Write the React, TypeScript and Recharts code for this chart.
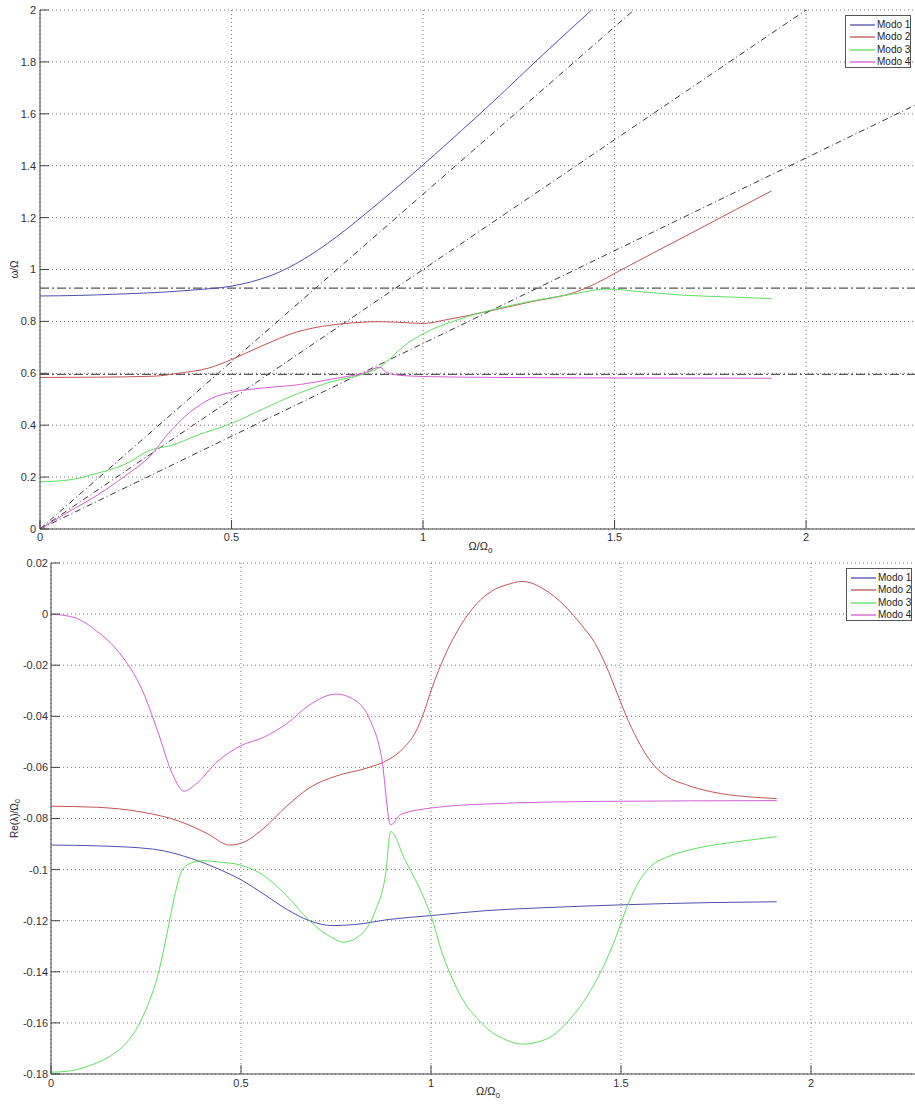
import { LineChart, Line, XAxis, YAxis, CartesianGrid, ReferenceLine, Label } from 'recharts';

const modeNames = ['Modo 1', 'Modo 2', 'Modo 3', 'Modo 4'];
const modeColors = ['#4f4fae', '#c25454', '#5fe05f', '#d35ed3'];

const xTicks = [0, 0.5, 1, 1.5, 2];
const freqTicks = [0, 0.2, 0.4, 0.6, 0.8, 1, 1.2, 1.4, 1.6, 1.8, 2];
const dampTicks = [-0.18, -0.16, -0.14, -0.12, -0.1, -0.08, -0.06, -0.04, -0.02, 0, 0.02];

// reference lines in the frequency plot
const raySlopes = [1.29, 1.0, 0.715];
const levelLines = [0.928, 0.596];

// omega / Omega
const freqX1 = [0, 0.1, 0.2, 0.3, 0.4, 0.5, 0.55, 0.6, 0.65, 0.7, 0.75, 0.8, 0.85, 0.9, 0.95, 1.0, 1.1, 1.2, 1.3, 1.44];
const freqY1 = [0.898, 0.9, 0.905, 0.911, 0.921, 0.936, 0.952, 0.975, 1.008, 1.05, 1.1, 1.155, 1.215, 1.276, 1.339, 1.403, 1.535, 1.67, 1.81, 2.0];
const freqX2 = [0, 0.15, 0.3, 0.36, 0.44, 0.5, 0.58, 0.67, 0.76, 0.82, 0.88, 0.93, 1.0, 1.06, 1.17, 1.28, 1.4, 1.45, 1.5, 1.6, 1.7, 1.8, 1.91];
const freqY2 = [0.584, 0.585, 0.589, 0.6, 0.62, 0.653, 0.706, 0.759, 0.786, 0.795, 0.799, 0.797, 0.792, 0.806, 0.839, 0.875, 0.914, 0.945, 0.985, 1.063, 1.14, 1.218, 1.303];
const freqX3 = [0, 0.07, 0.15, 0.22, 0.29, 0.34, 0.41, 0.5, 0.58, 0.67, 0.76, 0.85, 0.888, 0.92, 0.95, 1.0, 1.09, 1.24, 1.39, 1.48, 1.57, 1.68, 1.82, 1.91];
const freqY3 = [0.182, 0.188, 0.215, 0.248, 0.305, 0.321, 0.361, 0.407, 0.461, 0.52, 0.567, 0.6, 0.624, 0.665, 0.705, 0.752, 0.806, 0.865, 0.905, 0.925, 0.914, 0.901, 0.893, 0.888];
const freqX4 = [0, 0.07, 0.15, 0.22, 0.29, 0.335, 0.39, 0.45, 0.5, 0.58, 0.68, 0.77, 0.85, 0.888, 0.905, 0.95, 1.02, 1.2, 1.5, 1.91];
const freqY4 = [0, 0.062, 0.131, 0.202, 0.285, 0.368, 0.448, 0.505, 0.527, 0.543, 0.557, 0.58, 0.603, 0.624, 0.602, 0.591, 0.587, 0.584, 0.582, 0.581];

// Re(lambda) / Omega0
const dampX1 = [0, 0.12, 0.27, 0.37, 0.44, 0.5, 0.56, 0.62, 0.68, 0.74, 0.8, 0.89, 1.0, 1.15, 1.3, 1.5, 1.74, 1.91];
const dampY1 = [-0.0904, -0.0907, -0.092, -0.0957, -0.0997, -0.104, -0.1096, -0.1155, -0.12, -0.1219, -0.1215, -0.1195, -0.118, -0.116, -0.1149, -0.1138, -0.1129, -0.1126];
const dampX2 = [0, 0.12, 0.24, 0.34, 0.41, 0.47, 0.51, 0.56, 0.62, 0.68, 0.75, 0.83, 0.89, 0.93, 0.96, 0.98, 1.0, 1.02, 1.05, 1.08, 1.12, 1.16, 1.2, 1.24, 1.3, 1.35, 1.4, 1.43, 1.46, 1.49, 1.52, 1.55, 1.58, 1.62, 1.67, 1.74, 1.91];
const dampY2 = [-0.0752, -0.0756, -0.0775, -0.0812, -0.0858, -0.0904, -0.0891, -0.0838, -0.0752, -0.068, -0.0634, -0.0603, -0.0568, -0.0521, -0.046, -0.039, -0.03, -0.022, -0.012, -0.004, 0.004, 0.009, 0.0115, 0.0128, 0.0095, 0.0035, -0.005, -0.011, -0.02, -0.031, -0.042, -0.051, -0.058, -0.0635, -0.0667, -0.0696, -0.0722];
const dampX3 = [0, 0.05, 0.1, 0.15, 0.2, 0.23, 0.26, 0.28, 0.3, 0.32, 0.34, 0.36, 0.4, 0.44, 0.5, 0.56, 0.62, 0.68, 0.74, 0.77, 0.81, 0.855, 0.88, 0.894, 0.93, 0.975, 1.0, 1.03, 1.06, 1.09, 1.12, 1.15, 1.2, 1.24, 1.28, 1.32, 1.36, 1.4, 1.44, 1.48, 1.52, 1.55, 1.58, 1.62, 1.67, 1.74, 1.82, 1.91];
const dampY3 = [-0.1793, -0.1788, -0.1768, -0.1735, -0.1675, -0.161, -0.151, -0.142, -0.129, -0.114, -0.102, -0.098, -0.0965, -0.097, -0.0983, -0.1023, -0.1102, -0.12, -0.1267, -0.1284, -0.1261, -0.1155, -0.1023, -0.0851, -0.0957, -0.109, -0.118, -0.133, -0.144, -0.1525, -0.158, -0.1625, -0.1668, -0.1683, -0.1675, -0.165, -0.1595, -0.152, -0.142, -0.129, -0.113, -0.104, -0.0985, -0.0952, -0.0927, -0.0905, -0.0888, -0.0871];
const dampX4 = [0, 0.06, 0.12, 0.18, 0.24, 0.28, 0.32, 0.35, 0.38, 0.44, 0.5, 0.56, 0.62, 0.68, 0.75, 0.8, 0.84, 0.87, 0.894, 0.92, 1.0, 1.15, 1.45, 1.91];
const dampY4 = [0, -0.0013, -0.0066, -0.0152, -0.0297, -0.0455, -0.0627, -0.0693, -0.0667, -0.0574, -0.0515, -0.0482, -0.0429, -0.0356, -0.0313, -0.0337, -0.0416, -0.0561, -0.0825, -0.0785, -0.0759, -0.0743, -0.0733, -0.073];

const zip = (xs: number[], ys: number[]) => xs.map((x, i) => ({ x, y: ys[i] }));

const freqSeries = [zip(freqX1, freqY1), zip(freqX2, freqY2), zip(freqX3, freqY3), zip(freqX4, freqY4)];
const dampSeries = [zip(dampX1, dampY1), zip(dampX2, dampY2), zip(dampX3, dampY3), zip(dampX4, dampY4)];

const FONT = '"Liberation Sans", Arial, sans-serif';
const tickStyle = { fontSize: 11, fill: '#333', fontFamily: FONT };
const axisColor = '#444';

function ModeLegend({ left, top }: { left: number; top: number }) {
  return (
    <div
      style={{
        position: 'absolute',
        left,
        top,
        width: 66,
        height: 53,
        border: '1px solid #555',
        background: '#fff',
        fontFamily: FONT,
        fontSize: 10,
        color: '#222',
        boxSizing: 'border-box',
      }}
    >
      {modeNames.map((name, i) => (
        <div
          key={name}
          style={{ position: 'absolute', left: 4, top: 3 + i * 12.3, height: 12, display: 'flex', alignItems: 'center', whiteSpace: 'nowrap' }}
        >
          <svg width={25} height={4} style={{ display: 'block', flex: 'none' }}>
            <line x1={0} y1={2} x2={25} y2={2} stroke={modeColors[i]} strokeWidth={1.3} />
          </svg>
          <span style={{ marginLeft: 2, lineHeight: '12px' }}>{name}</span>
        </div>
      ))}
    </div>
  );
}

const xLabel = (props: any) => {
  const vb = props.viewBox;
  return (
    <text x={vb.x + vb.width / 2} y={vb.y + 21} textAnchor="middle" fontSize={11} fill="#222" fontFamily={FONT}>
      Ω/Ω<tspan fontSize={8} dy={3}>0</tspan>
    </text>
  );
};

export default function App() {
  const xMax = 2.3;
  return (
    <div style={{ position: 'absolute', left: 0, top: 0, width: 915, height: 1106, overflow: 'hidden', background: '#fff' }}>
      <div style={{ position: 'absolute', left: 0, top: 0 }}>
        <LineChart width={921} height={562} margin={{ top: 10, right: 0, bottom: 13, left: 0 }}>
          <CartesianGrid stroke="#777" strokeDasharray="1 3" />
          <XAxis
            type="number"
            dataKey="x"
            domain={[0, xMax]}
            ticks={xTicks}
            height={20}
            stroke={axisColor}
            tick={tickStyle}
            tickSize={-9}
            tickMargin={13}
          >
            <Label content={xLabel} />
          </XAxis>
          <YAxis
            type="number"
            dataKey="y"
            domain={[0, 2]}
            ticks={freqTicks}
            width={40}
            stroke={axisColor}
            tick={tickStyle}
            tickSize={-9}
            tickMargin={13}
          >
            <Label
              content={(props: any) => {
                const vb = props.viewBox;
                const cy = vb.y + vb.height / 2;
                return (
                  <text x={15} y={cy} transform={`rotate(-90, 15, ${cy})`} textAnchor="middle" dominantBaseline="middle" fontSize={10} fill="#222" fontFamily={FONT}>
                    ω/Ω
                  </text>
                );
              }}
            />
          </YAxis>
          {raySlopes.map((s) => {
            const xe = Math.min(xMax, 2 / s);
            return (
              <ReferenceLine
                key={s}
                segment={[{ x: 0, y: 0 }, { x: xe, y: s * xe }]}
                stroke="#222"
                strokeWidth={0.9}
                strokeDasharray="6 3 1 3"
                ifOverflow="visible"
              />
            );
          })}
          {levelLines.map((v) => (
            <ReferenceLine key={v} y={v} stroke="#555" strokeWidth={1.2} strokeDasharray="9 3 2 3" ifOverflow="visible" />
          ))}
          {freqSeries.map((d, i) => (
            <Line
              key={modeNames[i]}
              data={d}
              dataKey="y"
              type="monotone"
              stroke={modeColors[i]}
              strokeWidth={1}
              dot={false}
              isAnimationActive={false}
            />
          ))}
        </LineChart>
      </div>
      <ModeLegend left={845} top={15} />

      <div style={{ position: 'absolute', left: 0, top: 555 }}>
        <LineChart width={925} height={551} margin={{ top: 8, right: 0, bottom: 12, left: 0 }}>
          <CartesianGrid stroke="#777" strokeDasharray="1 3" />
          <XAxis
            type="number"
            dataKey="x"
            domain={[0, xMax]}
            ticks={xTicks}
            height={20}
            stroke={axisColor}
            tick={tickStyle}
            tickSize={-9}
            tickMargin={14}
          >
            <Label content={xLabel} />
          </XAxis>
          <YAxis
            type="number"
            dataKey="y"
            domain={[-0.18, 0.02]}
            ticks={dampTicks}
            width={51}
            stroke={axisColor}
            tick={tickStyle}
            tickSize={-9}
            tickMargin={12}
          >
            <Label
              content={(props: any) => {
                const vb = props.viewBox;
                const cy = vb.y + vb.height / 2;
                return (
                  <text x={15} y={cy} transform={`rotate(-90, 15, ${cy})`} textAnchor="middle" dominantBaseline="middle" fontSize={10} fill="#222" fontFamily={FONT}>
                    Re(λ)/Ω<tspan fontSize={7.5} dy={3}>0</tspan>
                  </text>
                );
              }}
            />
          </YAxis>
          {dampSeries.map((d, i) => (
            <Line
              key={modeNames[i]}
              data={d}
              dataKey="y"
              type="monotone"
              stroke={modeColors[i]}
              strokeWidth={1}
              dot={false}
              isAnimationActive={false}
            />
          ))}
        </LineChart>
      </div>
      <ModeLegend left={846} top={568} />
    </div>
  );
}
